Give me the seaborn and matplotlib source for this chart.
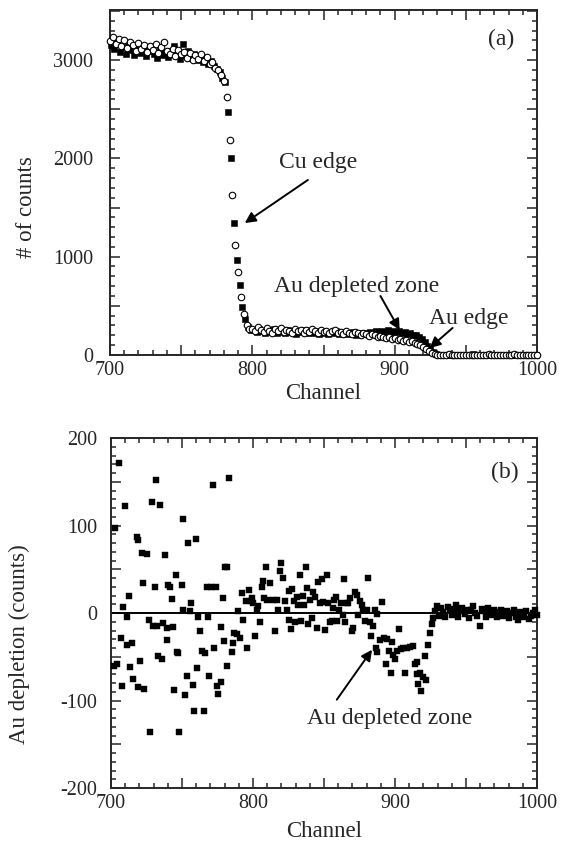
import numpy as np
import pandas as pd
import matplotlib
matplotlib.use("Agg")
import matplotlib.pyplot as plt
from matplotlib.ticker import MultipleLocator, FuncFormatter
import seaborn as sns

# ---------------- data ----------------
# (a) spectrum: open circles (even channels) and filled squares (odd channels)
circ_channel = list(range(700, 1001, 2))
circ_counts = [
    3190, 3230, 3160, 3210, 3140, 3200, 3120, 3180, 3150, 3090,
    3170, 3110, 3150, 3080, 3140, 3100, 3160, 3070, 3130, 3180,
    3090, 3060, 3110, 3040, 3100, 3060, 3080, 3020, 3070, 3000,
    3050, 3010, 3060, 2990, 3030, 2960, 2980, 2920, 2900, 2850, 2790,
    2620, 2190, 1630, 1120, 840, 590, 420, 300, 260,
    265, 240, 285, 250, 230, 270, 245, 225, 260, 240,
    275, 230, 255, 245, 220, 265, 240, 255, 225, 250,
    235, 260, 240, 225, 250, 230, 245, 220, 240, 255,
    225, 235, 215, 240, 225, 210, 235, 220, 205, 225,
    210, 195, 215, 200, 185, 195, 180, 170, 185, 165,
    175, 155, 165, 145, 150, 135, 140, 120, 115, 100,
    85, 65, 45, 25, 10, 3,
    2, 0, 0, 5, 0, 0, 3, 0, 0, 0, 4, 0, 0, 2, 0, 0, 0, 6,
    0, 0, 0, 3, 0, 0, 0, 0, 5, 0, 0, 2, 0, 0, 4, 0, 0,
]
sq_channel = list(range(701, 1000, 2))
sq_counts = [
    3150, 3110, 3170, 3080, 3130, 3060, 3140, 3100, 3050, 3120,
    3070, 3110, 3040, 3090, 3130, 3060, 3020, 3100, 3050, 3080,
    3030, 3090, 3140, 3060, 3010, 3160, 3050, 3090, 3020, 3060,
    3000, 3040, 2980, 3030, 2960, 2990, 2940, 2910, 2880, 2820,
    2780, 2470, 2000, 1340, 970, 710, 490, 370, 280, 250,
    255, 230, 265, 240, 220, 250, 235, 260, 225, 245,
    235, 220, 250, 230, 240, 215, 245, 230, 250, 220,
    240, 225, 245, 215, 235, 225, 210, 235, 220, 240,
    215, 230, 210, 225, 215, 230, 205, 220, 210, 225,
    215, 230, 220, 240, 225, 245, 230, 250, 225, 240,
    230, 245, 220, 235, 215, 225, 200, 205, 180, 160,
    130, 95, 60, 30, 10,
    0, 3, 0, 0, 0, 4, 0, 0, 2, 0, 0, 0, 5, 0, 0, 0, 3, 0,
    0, 0, 0, 2, 0, 0, 4, 0, 0, 0, 3, 0, 0, 0, 0, 2, 0,
]

# (b) Au depletion
depl_channel = [
    702.8, 705.9, 709.9, 708.7, 702.0, 704.0, 706.8, 707.5, 711.0, 713.0,
    711.5, 715.0, 713.4, 715.7, 718.0, 718.8, 720.4, 719.0, 721.6, 722.8,
    723.5, 725.6, 727.0, 727.5, 728.6, 729.8, 731.0, 732.0, 732.3, 733.3,
    734.5, 735.7, 736.9, 738.0, 739.2, 739.7, 740.4, 741.5, 742.7, 743.9,
    744.4, 745.8, 746.7, 747.4, 748.1, 749.8, 750.5, 750.9, 752.0, 753.3,
    754.5, 755.6, 756.1, 758.0, 758.5, 759.9, 760.3, 761.5, 762.7, 763.8,
    765.5, 766.2, 767.9, 768.5, 769.2, 770.2, 771.6, 772.5, 773.9, 774.4,
    775.6, 777.2, 777.4, 778.6, 779.6, 780.3, 781.9, 781.5, 783.3, 785.0,
    785.7, 786.6, 788.5, 789.7, 790.8, 792.0, 793.2, 795.0, 795.5, 797.4,
    798.4, 799.0, 800.0, 801.4, 802.6, 803.8, 805.0, 806.1, 807.3, 807.7,
    809.2, 810.0, 812.0, 813.8, 815.5, 816.7, 817.8, 819.0, 819.5, 820.9,
    822.5, 823.7, 825.0, 825.6, 826.5, 827.2, 828.9, 829.6, 830.8, 832.0,
    833.0, 833.8, 835.0, 836.0, 837.3, 837.8, 839.0, 840.1, 841.3, 842.5,
    843.7, 844.8, 846.0, 847.2, 848.4, 849.5, 850.7, 851.9, 853.1, 854.2,
    855.4, 856.6, 857.0, 858.5, 859.4, 860.8, 861.7, 863.1, 864.1, 864.8,
    866.0, 867.1, 868.3, 869.5, 870.7, 871.8, 873.0, 874.2, 875.4, 876.5,
    877.7, 878.9, 880.0, 881.2, 882.4, 882.9, 884.3, 885.9, 886.6, 887.0,
    887.6, 889.4, 890.6, 892.3, 893.7, 894.6, 896.0, 896.9, 897.7, 898.8,
    900.0, 901.2, 903.0, 904.0, 905.9, 907.0, 908.2, 910.6, 912.4, 914.0,
    915.3, 915.7, 916.4, 917.6, 918.0, 919.5, 921.1, 921.8, 923.5, 924.6,
    925.8, 927.0,
    928.0, 929.5, 931.0, 932.5, 934.0, 935.5, 937.0, 938.5, 940.0, 941.5,
    943.0, 944.5, 946.0, 947.5, 949.0, 950.5, 952.0, 953.5, 955.0, 956.5,
    958.0, 959.5, 961.0, 962.5, 964.0, 965.5, 967.0, 968.5, 970.0, 971.5,
    973.0, 974.5, 976.0, 977.5, 979.0, 980.5, 982.0, 983.5, 985.0, 986.5,
    988.0, 989.5, 991.0, 992.5, 994.0, 995.5, 997.0, 998.5, 1000.0,
]
depl_value = [
    97, 172, 122, 7, -60, -58, -28, -83, -4, 19,
    -36, -34, -62, -75, 87, 83, -55, -84, 69, 34,
    -87, 68, -8, -136, 127, -15, 30, 152, -15, -49,
    124, -53, -11, 66, -17, -31, 32, 30, 16, -16,
    -88, 43, -45, -46, -136, 32, 107, 3, -94, -72,
    80, 2, 11, -82, -112, 85, -63, -5, -21, -43,
    -112, -46, 30, -4, -72, 30, 146, -40, 30, -83,
    -92, -79, -16, 17, -32, 53, 53, -60, 154, -45,
    -34, -23, -24, 2, -28, 23, -8, 14, -40, 26,
    14, 17, 11, -26, 3, 8, -10, 30, 37, 17,
    53, 15, 34, 15, -20, 15, 4, 48, 57, 40,
    14, 3, -8, 25, -18, 28, 14, -10, 18, 9,
    43, -9, 20, 9, 53, 29, -12, 15, -6, 24,
    18, -17, 36, 12, 39, 13, -19, 43, 11, -10,
    -9, 6, 15, 18, -9, 4, 11, -2, 39, -10,
    11, 12, 17, -21, -17, 24, 21, -2, 14, 9,
    3, -9, 3, 40, -10, -26, -15, 3, -40, -45,
    -1, -31, 13, -29, -58, -30, -43, -68, -33, -48,
    -53, -43, -18, -41, -40, -68, -40, -39, -38, -58,
    -56, -70, -81, -68, -89, -73, -49, -77, -36, -23,
    -13, -6,
    2, 8, -3, 6, 1, -5, 7, 3, -2, 5,
    9, -4, 2, 6, -1, 4, -6, 3, 8, 0,
    -3, -15, 5, 2, -4, 6, 0, -2, 3, -5,
    1, 4, -3, -1, 2, -6, 0, 3, -4, -8,
    1, -2, -5, 2, -7, -3, 0, 4, -2,
]

x_tick_labels = ["700", "800", "900", "1000"]

circ_df = pd.DataFrame({"channel": circ_channel, "counts": circ_counts})
sq_df = pd.DataFrame({"channel": sq_channel, "counts": sq_counts})
depl_df = pd.DataFrame({"channel": depl_channel, "value": depl_value})

# ---------------- style ----------------
sns.set_style("ticks")
plt.rcParams["font.family"] = ["Liberation Serif", "DejaVu Serif"]
plt.rcParams["axes.unicode_minus"] = False
plt.rcParams["axes.linewidth"] = 1.4

fig = plt.figure(figsize=(5.61, 8.5), dpi=100)
ax1 = fig.add_axes([0.1961, 0.5824, 0.7611, 0.4059])
ax2 = fig.add_axes([0.1979, 0.0729, 0.7594, 0.4118])

TICK_FS = 14.5
LABEL_FS = 16.5
ANN_FS = 17

# ---------- (a) ----------
sns.scatterplot(data=sq_df, x="channel", y="counts", ax=ax1, marker="s",
                color="black", edgecolor="black", s=14, linewidth=0.4,
                clip_on=False, zorder=3, legend=False)
sns.scatterplot(data=circ_df, x="channel", y="counts", ax=ax1, marker="o",
                facecolor="white", edgecolor="black", s=22, linewidth=0.8,
                clip_on=False, zorder=4, legend=False)
ax1.set_xlim(700, 1000)
ax1.set_ylim(0, 3510)
ax1.set_xlabel("Channel", fontsize=LABEL_FS)
ax1.set_ylabel("# of counts", fontsize=LABEL_FS)
ax1.xaxis.set_label_coords(0.5, -0.08)
ax1.yaxis.set_label_coords(-0.17, 0.43)

ax1.text(975, 3214, "(a)", fontsize=ANN_FS, ha="center", va="center")
ax1.text(846, 1953, "Cu edge", fontsize=ANN_FS, ha="center", va="center")
ax1.text(873, 692, "Au depleted zone", fontsize=ANN_FS, ha="center", va="center")
ax1.text(952, 376, "Au edge", fontsize=ANN_FS, ha="center", va="center")
arrow_kw = dict(arrowstyle="-|>", color="black", lw=1.4, mutation_scale=16,
                shrinkA=0, shrinkB=0)
ax1.annotate("", xy=(794.7, 1342), xytext=(839, 1780), arrowprops=arrow_kw)
ax1.annotate("", xy=(903.5, 254), xytext=(890, 600), arrowprops=arrow_kw)
ax1.annotate("", xy=(924.6, 71), xytext=(940.7, 275), arrowprops=arrow_kw)

# ---------- (b) ----------
ax2.axhline(0, color="black", lw=1.4, zorder=2)
sns.scatterplot(data=depl_df, x="channel", y="value", ax=ax2, marker="s",
                color="black", edgecolor="black", s=18, linewidth=0.3,
                clip_on=False, zorder=3, legend=False)
ax2.set_xlim(700, 1000)
ax2.set_ylim(-200, 200)
ax2.set_xlabel("Channel", fontsize=LABEL_FS)
ax2.set_ylabel("Au depletion (counts)", fontsize=LABEL_FS)
ax2.xaxis.set_label_coords(0.5, -0.093)
ax2.yaxis.set_label_coords(-0.19, 0.41)

ax2.text(977.5, 161, "(b)", fontsize=ANN_FS, ha="center", va="center")
ax2.text(896.5, -121, "Au depleted zone", fontsize=ANN_FS, ha="center", va="center")
ax2.annotate("", xy=(883.8, -42), xytext=(859, -99), arrowprops=arrow_kw)

# ---------- ticks ----------
def x_fmt(v, pos):
    iv = int(round(v))
    if iv % 100 == 0:
        return x_tick_labels[(iv - 700) // 100] if 700 <= iv <= 1000 else ""
    return ""

def make_fmt(step):
    def f(v, pos):
        iv = int(round(v))
        return str(iv) if iv % step == 0 else ""
    return f

for ax in (ax1, ax2):
    ax.xaxis.set_major_locator(MultipleLocator(50))
    ax.xaxis.set_minor_locator(MultipleLocator(10))
    ax.xaxis.set_major_formatter(FuncFormatter(x_fmt))
    ax.tick_params(which="both", direction="in", top=True, right=True,
                   labelsize=TICK_FS, width=1.1)
    ax.tick_params(which="major", length=7)
    ax.tick_params(which="minor", length=3.5)
    ax.tick_params(axis="x", pad=4)
    for sp in ax.spines.values():
        sp.set_linewidth(1.4)
        sp.set_visible(True)

ax1.tick_params(axis="y", pad=12.3)
ax2.tick_params(axis="y", pad=10)

ax1.yaxis.set_major_locator(MultipleLocator(500))
ax1.yaxis.set_minor_locator(MultipleLocator(100))
ax1.yaxis.set_major_formatter(FuncFormatter(make_fmt(1000)))
ax2.yaxis.set_major_locator(MultipleLocator(50))
ax2.yaxis.set_minor_locator(MultipleLocator(10))
ax2.yaxis.set_major_formatter(FuncFormatter(make_fmt(100)))

fig.savefig("out.png", dpi=100)
